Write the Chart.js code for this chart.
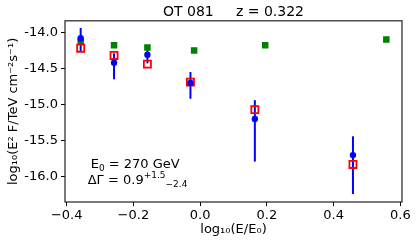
<!DOCTYPE html>
<html><head><meta charset="utf-8">
<script src="https://cdn.jsdelivr.net/npm/chart.js@4.4.0/dist/chart.umd.min.js"></script>
<style>html,body{margin:0;padding:0;background:#fff}</style>
</head><body>
<canvas id="c" width="416" height="245" style="width:416px;height:245px;display:block"></canvas>
<script>
// ---- data ----
const energyX     = [-0.358, -0.258, -0.158, -0.029, 0.164, 0.458];
const blueFlux    = [-14.08, -14.42, -14.31, -14.70, -15.20, -15.70];
const blueErrLow  = [-14.27, -14.65, -14.43, -14.92, -15.79, -16.24];
const blueErrHigh = [-13.94, -14.29, -14.22, -14.55, -14.94, -15.44];
const redFlux     = [-14.22, -14.32, -14.44, -14.69, -15.07, -15.83];
const greenX      = [-0.358, -0.258, -0.158, -0.018, 0.195, 0.558];
const greenFlux   = [-14.13, -14.18, -14.21, -14.25, -14.18, -14.10];
const xTicks = [-0.4, -0.2, 0.0, 0.2, 0.4, 0.6];
const yTicks = [-16.0, -15.5, -15.0, -14.5, -14.0];
const titleText = 'OT 081     z = 0.322';
const xTitle = 'log₁₀(E/E₀)';
const yTitle = 'log₁₀(E² F/TeV cm⁻²s⁻¹)';
const annot1 = {base: 'E', sub: '0', rest: ' = 270 GeV', x: -0.328, y: -15.88};
const annot2 = {base: 'ΔΓ = 0.9', sup: '+1.5', sub: '−2.4', x: -0.337, y: -16.10};

const FONT = 'DejaVu Sans';

const errorBars = {
  id: 'errorBars',
  beforeDatasetsDraw(chart) {
    const {ctx, scales: {x, y}} = chart;
    ctx.save();
    ctx.strokeStyle = '#0000ff';
    ctx.lineWidth = 2;
    for (let i = 0; i < energyX.length; i++) {
      const px = x.getPixelForValue(energyX[i]);
      ctx.beginPath();
      ctx.moveTo(px, y.getPixelForValue(blueErrLow[i]));
      ctx.lineTo(px, y.getPixelForValue(blueErrHigh[i]));
      ctx.stroke();
    }
    ctx.restore();
  }
};

const frameAndText = {
  id: 'frameAndText',
  afterDraw(chart) {
    const {ctx, chartArea: a, scales: {x, y}} = chart;
    ctx.save();
    ctx.strokeStyle = '#222';
    ctx.lineWidth = 1.2;
    ctx.strokeRect(a.left, a.top, a.right - a.left, a.bottom - a.top);
    ctx.fillStyle = '#000';
    ctx.textBaseline = 'alphabetic';
    // line 1
    let px = x.getPixelForValue(annot1.x), py = y.getPixelForValue(annot1.y);
    ctx.font = '13px "' + FONT + '"';
    ctx.fillText(annot1.base, px, py); px += ctx.measureText(annot1.base).width;
    ctx.font = '9px "' + FONT + '"';
    ctx.fillText(annot1.sub, px, py + 3); px += ctx.measureText(annot1.sub).width;
    ctx.font = '13px "' + FONT + '"';
    ctx.fillText(annot1.rest, px, py);
    // line 2
    px = x.getPixelForValue(annot2.x); py = y.getPixelForValue(annot2.y);
    ctx.fillText(annot2.base, px, py); px += ctx.measureText(annot2.base).width;
    ctx.font = '9px "' + FONT + '"';
    ctx.fillText(annot2.sup, px, py - 6); px += ctx.measureText(annot2.sup).width;
    ctx.fillText(annot2.sub, px, py + 3);
    ctx.restore();
  }
};

const tickFont = {family: FONT, size: 13};

new Chart(document.getElementById('c'), {
  type: 'scatter',
  data: {
    datasets: [
      {label: 'blue', data: energyX.map((v, i) => ({x: v, y: blueFlux[i]})),
       pointStyle: 'circle', pointRadius: 3.2, backgroundColor: '#0000ff', borderColor: '#0000ff', borderWidth: 0, order: 1},
      {label: 'red', data: energyX.map((v, i) => ({x: v, y: redFlux[i]})),
       pointStyle: 'rect', pointRadius: 5, backgroundColor: 'rgba(0,0,0,0)', borderColor: '#ff0000', borderWidth: 1.8, order: 2},
      {label: 'green', data: greenX.map((v, i) => ({x: v, y: greenFlux[i]})),
       pointStyle: 'rect', pointRadius: 4.6, backgroundColor: '#008000', borderColor: '#008000', borderWidth: 0, order: 3}
    ]
  },
  options: {
    responsive: false, animation: false, devicePixelRatio: 1,
    layout: {padding: {left: 0, right: 14, top: 0, bottom: 0}},
    plugins: {
      legend: {display: false}, tooltip: {enabled: false},
      title: {display: true, text: titleText, fullSize: false, color: '#000',
              font: {family: FONT, size: 14, weight: 'normal'}, padding: {top: 4, bottom: 0}}
    },
    scales: {
      x: {
        type: 'linear', min: -0.405, max: 0.605,
        afterBuildTicks: s => { s.ticks = xTicks.map(v => ({value: v})); },
        afterFit: s => { s.height = 43; },
        ticks: {color: '#000', font: tickFont, padding: 2, maxRotation: 0, autoSkip: false,
                callback: v => (v < 0 ? '−' : '') + Math.abs(v).toFixed(1)},
        grid: {display: true, drawOnChartArea: false, drawTicks: true, tickLength: 4, color: '#000', lineWidth: 1},
        border: {display: false},
        title: {display: true, text: xTitle, color: '#000', font: {family: FONT, size: 13}, padding: {top: 0, bottom: 8}}
      },
      y: {
        type: 'linear', min: -16.35, max: -13.84,
        afterBuildTicks: s => { s.ticks = yTicks.map(v => ({value: v})); },
        afterFit: s => { s.width = 65; },
        ticks: {color: '#000', font: tickFont, padding: 3, autoSkip: false,
                callback: v => v.toFixed(1)},
        grid: {display: true, drawOnChartArea: false, drawTicks: true, tickLength: 4, color: '#000', lineWidth: 1},
        border: {display: false},
        title: {display: true, text: yTitle, color: '#000', font: {family: FONT, size: 13}, padding: {top: 6, bottom: 0}}
      }
    }
  },
  plugins: [errorBars, frameAndText]
});
</script>
</body></html>
